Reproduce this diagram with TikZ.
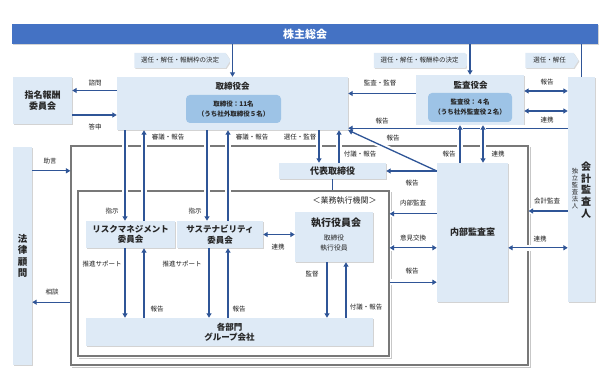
\documentclass[tikz,border=0pt]{standalone}
\usepackage{fontspec}
\setmainfont{Noto Sans CJK JP}
\usepackage{tikz}
\usetikzlibrary{arrows.meta,shapes.symbols,shadows}
\definecolor{gmblue}{RGB}{68,114,196}
\definecolor{boxblue}{RGB}{222,234,246}
\definecolor{midblue}{RGB}{157,195,230}
\definecolor{arrowblue}{RGB}{47,85,151}
\definecolor{framegray}{RGB}{120,120,120}
\tikzset{
  box/.style={rectangle, fill=boxblue, text=black!85, inner sep=1pt, align=center,
              drop shadow={shadow xshift=1.2pt,shadow yshift=-1.2pt,opacity=.35},
              font=\fontsize{8.5}{10.5}\selectfont\bfseries},
  inbox/.style={rectangle, rounded corners=4pt, fill=midblue, text=black!85, align=center,
              inner sep=1pt, font=\fontsize{6.5}{10}\selectfont\bfseries},
  tagbox/.style={signal, signal to=east, signal pointer angle=115, fill=boxblue,
              inner sep=1pt, minimum height=15pt, text=black!85,
              drop shadow={shadow xshift=1pt,shadow yshift=-1pt,opacity=.3},
              font=\fontsize{6.5}{7}\selectfont},
  frame/.style={rectangle, draw=framegray, line width=1.1pt, inner sep=0pt},
  frameshadow/.style={draw=black!22, line width=1.1pt},
  lbl/.style={font=\fontsize{6.5}{7}\selectfont, text=black!88, inner sep=0pt},
  arrow line/.style={line width=1.3pt, draw=arrowblue, -{Triangle[length=4.5pt,width=5pt]}},
  halo/.style={preaction={draw=white, line width=5.5pt, arrows=-, shorten <=1pt, shorten >=1pt, #1}},
  halo/.default={},
  arr/.style={arrow line, halo},
  dbl/.style={arr, {Triangle[length=4.5pt,width=5pt]}-{Triangle[length=4.5pt,width=5pt]}},
  link/.style={line width=1.3pt, draw=arrowblue},
}

\begin{document}
\begin{tikzpicture}[x=1pt,y=-1pt]
  \useasboundingbox (0,0) rectangle (608,390);

  % frames
  \node[frame, minimum width=457pt, minimum height=219pt] (outer) at (299.5,255.5) {};
  \node[frame, minimum width=311pt, minimum height=165pt] (inner) at (233.5,273.5) {};
  \draw[frameshadow] ([shift={(2pt,-2pt)}]outer.north east) |- ([shift={(2pt,-2pt)}]outer.south west);
  \draw[frameshadow] ([shift={(2pt,-2pt)}]inner.north east) |- ([shift={(2pt,-2pt)}]inner.south west);
  \draw[frame] (outer.north west) rectangle (outer.south east);
  \draw[frame] (inner.north west) rectangle (inner.south east);
  \node[font=\fontsize{8}{9}\selectfont, text=black!85] (innertitle) at (344.5,201) {＜業務執行機関＞};

  % boxes
  \node[box, fill=gmblue, text=white, minimum width=586pt, minimum height=20pt,
        font=\fontsize{11}{12}\selectfont\bfseries] (agm) at (305,34) {株主総会};
  \node[box, minimum width=59pt, minimum height=47pt, font=\fontsize{9}{11}\selectfont\bfseries]
        (nom) at (42.5,100.5) {指名報酬\\委員会};
  \node[box, minimum width=231pt, minimum height=53pt] (bod) at (232.5,103.5) {};
  \node[font=\fontsize{8.5}{10}\selectfont\bfseries, text=black!85] (bodtitle) at (232.5,86) {取締役会};
  \node[inbox, minimum width=95pt, minimum height=28pt] (bodin) at (233.5,109) {取締役：11名\\（うち社外取締役５名）};
  \node[box, minimum width=108pt, minimum height=50pt] (kan) at (470,100) {};
  \node[font=\fontsize{8.5}{10}\selectfont\bfseries, text=black!85] (kantitle) at (470.5,85) {監査役会};
  \node[inbox, minimum width=84pt, minimum height=29pt] (kanin) at (470,107.5) {監査役：４名\\（うち社外監査役２名）};
  \node[box, minimum width=27pt, minimum height=225pt] (acc) at (581.5,189.5) {};
  \node[align=center, inner sep=0pt, font=\fontsize{10}{11.6}\selectfont\bfseries, text=black!85]
        (acctitle) at (586,190) {会\\計\\監\\査\\人};
  \node[align=center, inner sep=0pt, font=\fontsize{6.3}{7}\selectfont, text=black!85]
        (accsub) at (575,189) {独\\立\\監\\査\\法\\人};
  \node[box, minimum width=19pt, minimum height=218pt, font=\fontsize{9.5}{11.5}\selectfont\bfseries]
        (law) at (22.5,256) {法\\律\\顧\\問};
  \node[box, minimum width=107pt, minimum height=16pt, font=\fontsize{9}{10}\selectfont\bfseries]
        (rep) at (332.5,171) {代表取締役};
  \node[box, minimum width=71pt, minimum height=139pt, font=\fontsize{9}{10}\selectfont\bfseries]
        (ia) at (472.5,232.5) {内部監査室};
  \node[box, minimum width=89pt, minimum height=27pt] (rm) at (130.5,234.5) {リスクマネジメント\\委員会};
  \node[box, minimum width=86pt, minimum height=27pt] (sus) at (220,234.5) {サステナビリティ\\委員会};
  \node[box, minimum width=78pt, minimum height=50pt] (exe) at (334,237) {};
  \node[font=\fontsize{10}{11}\selectfont\bfseries, text=black!85] (exetitle) at (336,223) {執行役員会};
  \node[align=center, font=\fontsize{6.8}{9.5}\selectfont, text=black!85] (exesub) at (334,243) {取締役\\執行役員};
  \node[box, minimum width=287pt, minimum height=28pt] (dept) at (229.5,332) {各部門\\グループ会社};

  % tags
  \node[tagbox, minimum width=96pt] (tag1) at (180,60.5) {選任・解任・報酬枠の決定};
  \node[tagbox, minimum width=96pt] (tag2) at (419.5,60.5) {選任・解任・報酬枠の決定};
  \node[tagbox, minimum width=53pt] (tag3) at (549.5,60.5) {選任・解任};

  % connectors
  \draw[arr] (agm.south -| bod.north) -- (bod.north);
  \draw[arr] (agm.south -| kan.north) -- (kan.north);
  \draw[link] (agm.south -| acc.north) -- (acc.north);

  \draw[arr] ([yshift=13pt]bod.west) -- ([yshift=13pt]bod.west -| nom.east);
  \draw[arr] ([yshift=-14.5pt]nom.east) -- ([yshift=-14.5pt]nom.east -| bod.west);

  \draw[arr] ([yshift=6.5pt]kan.west) -- ([yshift=6.5pt]kan.west -| bod.east);
  \draw[dbl] ([yshift=9pt]kan.east) -- ([yshift=9pt]kan.east -| acc.west);
  \draw[dbl] ([yshift=-11pt]kan.east) -- ([yshift=-11pt]kan.east -| acc.west);
  \draw[arr] ([yshift=2pt]bod.south east -| acc.west) -- ([yshift=2pt]bod.south east);

  \draw[arr] ([xshift=-12.5pt]ia.north) -- ([xshift=-12.5pt]ia.north |- kan.south);
  \draw[dbl] ([xshift=10.5pt]ia.north) -- ([xshift=10.5pt]ia.north |- kan.south);

  \coordinate (iaout) at (rep.east -| ia.west);
  \draw[arrow line, halo={shorten <=12pt, shorten >=12pt}] (iaout) -- (bod.south east);
  \draw[arrow line] (iaout) -- (rep.east);

  \draw[arr] ([xshift=-5.5pt]rm.north |- bod.south) -- ([xshift=-5.5pt]rm.north);
  \draw[arr] ([xshift=13.5pt]rm.north) -- ([xshift=13.5pt]rm.north |- bod.south);
  \draw[arr] ([xshift=-13pt]sus.north |- bod.south) -- ([xshift=-13pt]sus.north);
  \draw[arr] ([xshift=8pt]sus.north) -- ([xshift=8pt]sus.north |- bod.south);

  \draw[arr] ([xshift=-5.5pt]rm.south) -- ([xshift=-5.5pt]rm.south |- dept.north);
  \draw[arr] ([xshift=13.5pt]rm.south |- dept.north) -- ([xshift=13.5pt]rm.south);
  \draw[arr] ([xshift=-11pt]sus.south) -- ([xshift=-11pt]sus.south |- dept.north);
  \draw[arr] ([xshift=8pt]sus.south |- dept.north) -- ([xshift=8pt]sus.south);

  \draw[arr] ([xshift=-13.5pt]rep.north |- bod.south) -- ([xshift=-13.5pt]rep.north);
  \draw[arr] ([xshift=6.5pt]rep.north) -- ([xshift=6.5pt]rep.north |- bod.south);
  \draw[link] (rep.south) -- (rep.south |- inner.north);

  \draw[arr] ([xshift=-7pt]exe.south) -- ([xshift=-7pt]exe.south |- dept.north);
  \draw[arr] ([xshift=12pt]exe.south |- dept.north) -- ([xshift=12pt]exe.south);
  \draw[dbl] (sus.east) -- (sus.east -| exe.west);

  \draw[arr] ([yshift=-51pt]ia.north west) -- ([yshift=-51pt]ia.north west -| inner.east);
  \draw[dbl] ([yshift=-85pt]ia.north west -| inner.east) -- ([yshift=-85pt]ia.north west);
  \draw[arr] ([yshift=20pt]ia.south west -| inner.east) -- ([yshift=20pt]ia.south west);

  \draw[arr] ([yshift=-21.5pt]acc.west) -- ([yshift=-21.5pt]acc.west -| outer.east);
  \draw[dbl] ([yshift=-85pt]ia.north east) -- ([yshift=-85pt]ia.north east -| acc.west);

  \draw[arr] ([yshift=-24pt]law.north east) -- ([yshift=-24pt]law.north east -| outer.west);
  \draw[arr] ([yshift=63pt]law.south east -| outer.west) -- ([yshift=63pt]law.south east);

  % labels
  \foreach \x/\y/\t [count=\i] in {
      95/83/諮問, 95/127/答申, 380/83/監査・監督, 547/82/報告, 547/120/連携,
      382/121/報告, 168/137/審議・報告, 252/137/審議・報告, 300/137/選任・監督,
      393/138/報告, 360/154/付議・報告, 449/154/報告, 498/154/連携, 412/183/報告,
      50/161/助言, 413/203/内部監査, 547/201/会計監査, 112/211/指示, 195/211/指示,
      413/238/意見交換, 540/239/連携, 278/247/連携, 102/264/推進サポート,
      182/264/推進サポート, 412/271/報告, 312/274/監督, 52/292/相談,
      157/309/報告, 239/309/報告, 366/307/付議・報告}{
    \node[lbl] (lbl\i) at (\x,\y) {\t};
  }
\end{tikzpicture}
\end{document}
